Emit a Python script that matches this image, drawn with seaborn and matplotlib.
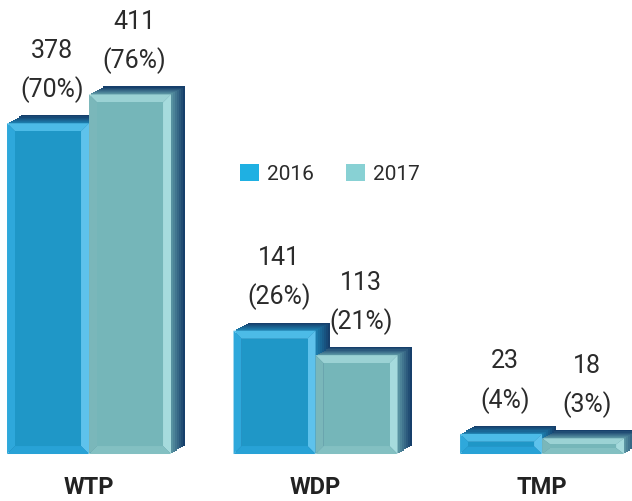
import numpy as np
import pandas as pd
import seaborn as sns
import matplotlib.pyplot as plt
import matplotlib.colors as mcolors
from matplotlib.patches import Rectangle, Polygon, Patch
from matplotlib.transforms import ScaledTranslation, blended_transform_factory

# datos
categorias = ["WTP", "WDP", "TMP"]
anios = ["2016", "2017"]
valores_2016 = [378, 141, 23]
valores_2017 = [411, 113, 18]
porcentajes_2016 = ["70%", "26%", "4%"]
porcentajes_2017 = ["76%", "21%", "3%"]

df = pd.DataFrame({
    "categoria": categorias * 2,
    "anio": ["2016"] * 3 + ["2017"] * 3,
    "valor": valores_2016 + valores_2017,
    "pct": porcentajes_2016 + porcentajes_2017,
})

colores_frente = {"2016": "#1f97c7", "2017": "#75b6b9"}
colores_bisel = {
    "2016": {"top": "#4cbbe7", "left": "#2ea8db", "right": "#5ec2ec", "bottom": "#28a2d6"},
    "2017": {"top": "#9bd2d4", "left": "#7ab7ba", "right": "#a6dbdd", "bottom": "#83c0c2"},
}
colores_leyenda = {"2016": "#1fb0e2", "2017": "#88d1d4"}
color_fondo = "#163f6b"

sns.set_style("white")
plt.rcParams["font.family"] = ["Roboto", "DejaVu Sans"]

fig = plt.figure(figsize=(6.32, 5.02), dpi=100)
ax = fig.add_axes([0, 0, 1, 1])
sns.barplot(data=df, x="categoria", y="valor", hue="anio", hue_order=anios,
            palette=colores_frente, width=0.724, saturation=1, legend=False, ax=ax)
ax.set_xlim(-0.393, 2.397)
ax.set_ylim(-53.7, 520)
ax.axis("off")

# pixeles por unidad de datos
px_x = 632 / (2.397 + 0.393)
px_y = 502 / (520 + 53.7)

barras = sorted(ax.patches, key=lambda p: p.get_x())
for p in list(ax.patches):
    p.set_visible(False)

dx, dy = 0.14, 0.08  # profundidad en pulgadas
capas = 7
for i, p in enumerate(barras):
    fila = df[(df["categoria"] == categorias[i // 2]) & (df["anio"] == anios[i % 2])].iloc[0]
    anio = fila["anio"]
    x, w, h = p.get_x(), p.get_width(), p.get_height()
    z = 1 + 3 * (i % 2)
    # capas de profundidad
    c_frente = np.array(mcolors.to_rgb(colores_frente[anio]))
    c_fondo = np.array(mcolors.to_rgb(color_fondo))
    for k in range(capas, 0, -1):
        t = k / capas
        col = c_frente * (1 - t) * 0.8 + c_fondo * (t + (1 - t) * 0.2)
        r = Rectangle((x, 0), w, h, facecolor=col, edgecolor="none", zorder=z)
        r.set_transform(ax.transData + ScaledTranslation(k * dx / capas, k * dy / capas, fig.dpi_scale_trans))
        ax.add_patch(r)
    # cara frontal con bisel
    bx = 8 / px_x
    by = min(8 / px_y, h / 2.6)
    b = colores_bisel[anio]
    x0, x1, y0, y1 = x, x + w, 0, h
    ax.add_patch(Polygon([(x0, y1), (x1, y1), (x1 - bx, y1 - by), (x0 + bx, y1 - by)], facecolor=b["top"], edgecolor="none", zorder=z + 1))
    ax.add_patch(Polygon([(x0, y0), (x0, y1), (x0 + bx, y1 - by), (x0 + bx, y0 + by)], facecolor=b["left"], edgecolor="none", zorder=z + 1))
    ax.add_patch(Polygon([(x1, y0), (x1, y1), (x1 - bx, y1 - by), (x1 - bx, y0 + by)], facecolor=b["right"], edgecolor="none", zorder=z + 1))
    ax.add_patch(Polygon([(x0, y0), (x1, y0), (x1 - bx, y0 + by), (x0 + bx, y0 + by)], facecolor=b["bottom"], edgecolor="none", zorder=z + 1))
    ax.add_patch(Rectangle((x0 + bx, y0 + by), w - 2 * bx, h - 2 * by, facecolor=colores_frente[anio], edgecolor="none", zorder=z + 1))
    # etiquetas
    cx = x + w / 2
    ax.annotate(str(fila["valor"]), (cx, h), xytext=(3, 53), textcoords="offset points",
                ha="center", va="center", fontsize=18, color="#2b2b2b", zorder=10)
    ax.annotate("(" + fila["pct"] + ")", (cx, h), xytext=(3, 25), textcoords="offset points",
                ha="center", va="center", fontsize=18, color="#2b2b2b", zorder=10)

# nombres de categoria
trans = blended_transform_factory(ax.transData, ax.transAxes)
for i, c in enumerate(categorias):
    ax.text(i, 0.028, c, transform=trans, ha="center", va="center",
            fontsize=17, fontweight="bold", color="#222222")

# leyenda
manijas = [Patch(facecolor=colores_leyenda[a], edgecolor="none", label=a) for a in anios]
fig.legend(handles=manijas, loc="center left", bbox_to_anchor=(240 / 632, 1 - 174.5 / 502),
           ncol=2, frameon=False, fontsize=15, handlelength=0.91, handleheight=0.91,
           handletextpad=0.38, columnspacing=1.54, borderpad=0, borderaxespad=0,
           labelcolor="#2b2b2b")

fig.savefig("out.png", dpi=100, facecolor="white")
